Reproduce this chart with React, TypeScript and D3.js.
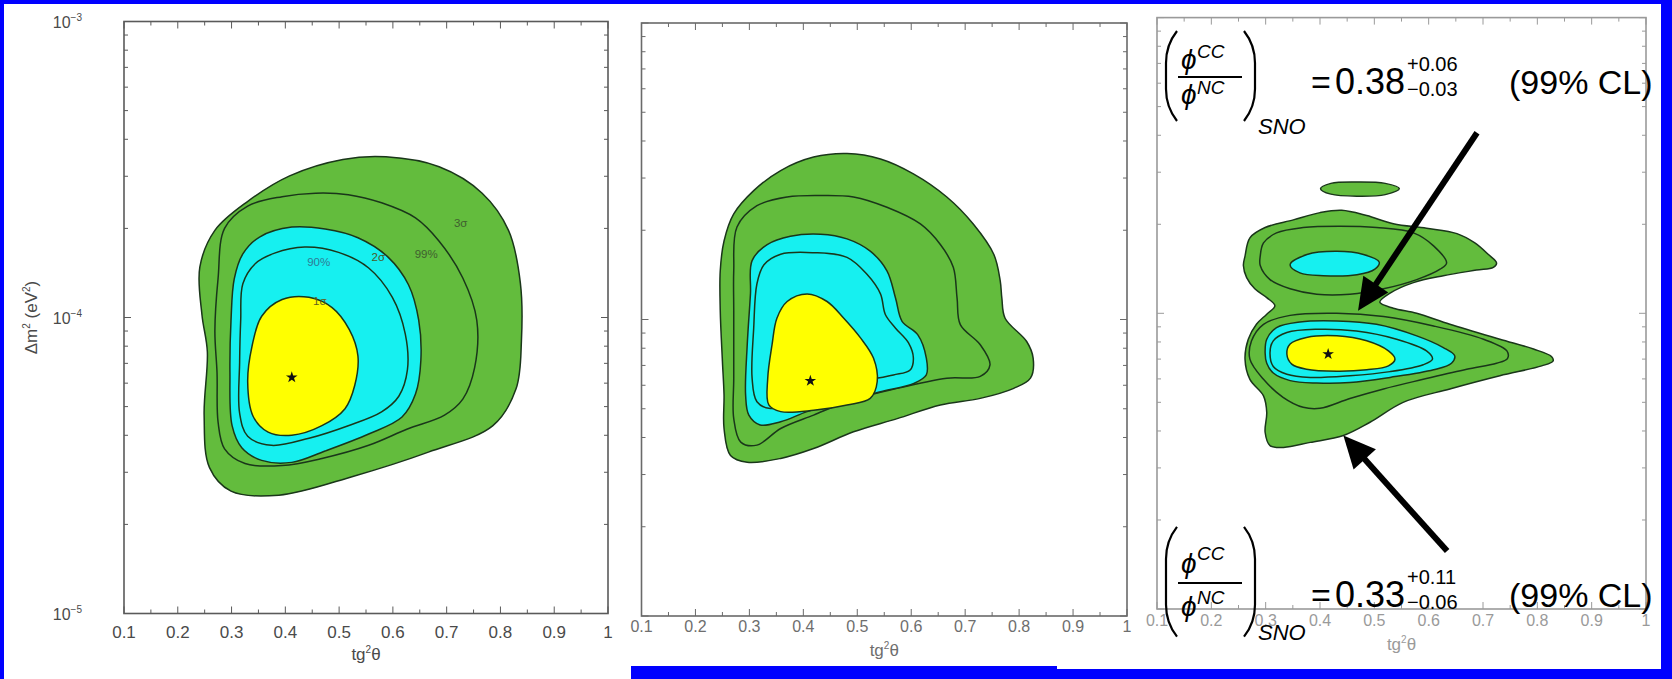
import React from "react";
import * as d3 from "d3";

type Pt = [number, number];

// ---- axes ----
const xDomain: [number, number] = [0.1, 1];
const yDomain: [number, number] = [1e-5, 1e-3];
const xTickValues = [0.1, 0.2, 0.3, 0.4, 0.5, 0.6, 0.7, 0.8, 0.9, 1];
const xTickLabels = ["0.1", "0.2", "0.3", "0.4", "0.5", "0.6", "0.7", "0.8", "0.9", "1"];
const xMinorValues = [0.15, 0.25, 0.35, 0.45, 0.55, 0.65, 0.75, 0.85, 0.95];
const yDecadeValues = [1e-5, 1e-4, 1e-3];
const yDecadeExponents = ["−5", "−4", "−3"];

// ---- panel 1: allowed regions (tg²θ, Δm² in eV²) ----
const p1Sigma3: Pt[] = [
  [0.241, 1.48e-4], [0.269, 1.97e-4], [0.329, 2.46e-4], [0.408, 3.01e-4], [0.507, 3.42e-4],
  [0.587, 3.49e-4], [0.686, 3.23e-4], [0.766, 2.63e-4], [0.815, 1.97e-4], [0.837, 1.31e-4],
  [0.839, 8.32e-5], [0.829, 5.74e-5], [0.786, 4.31e-5], [0.666, 3.51e-5], [0.527, 2.91e-5],
  [0.388, 2.51e-5], [0.299, 2.59e-5], [0.259, 3.11e-5], [0.249, 4.68e-5], [0.255, 7.66e-5],
  [0.245, 1.02e-4],
];
const p1CL99: Pt[] = [
  [0.269, 9.02e-5], [0.275, 1.36e-4], [0.287, 2.0e-4], [0.33, 2.38e-4], [0.394, 2.56e-4],
  [0.456, 2.63e-4], [0.517, 2.6e-4], [0.579, 2.44e-4], [0.642, 2.17e-4], [0.686, 1.81e-4],
  [0.73, 1.36e-4], [0.756, 9.79e-5], [0.752, 6.77e-5], [0.73, 5.3e-5], [0.696, 4.68e-5],
  [0.627, 4.2e-5], [0.555, 3.7e-5], [0.468, 3.34e-5], [0.394, 3.16e-5], [0.325, 3.21e-5],
  [0.287, 3.6e-5], [0.275, 4.42e-5], [0.273, 6.51e-5],
];
const p1Sigma2: Pt[] = [
  [0.299, 9.79e-5], [0.305, 1.35e-4], [0.321, 1.64e-4], [0.352, 1.87e-4], [0.412, 2.02e-4],
  [0.474, 1.99e-4], [0.535, 1.86e-4], [0.591, 1.6e-4], [0.629, 1.29e-4], [0.648, 9.79e-5],
  [0.652, 7.16e-5], [0.642, 5.51e-5], [0.617, 4.61e-5], [0.555, 4.04e-5], [0.474, 3.54e-5],
  [0.412, 3.24e-5], [0.356, 3.29e-5], [0.319, 3.63e-5], [0.301, 4.31e-5], [0.297, 6.51e-5],
];
const p1CL90: Pt[] = [
  [0.317, 9.79e-5], [0.321, 1.3e-4], [0.344, 1.52e-4], [0.38, 1.65e-4], [0.436, 1.73e-4],
  [0.499, 1.66e-4], [0.555, 1.47e-4], [0.599, 1.17e-4], [0.623, 8.81e-5], [0.627, 6.65e-5],
  [0.611, 5.42e-5], [0.579, 4.8e-5], [0.517, 4.31e-5], [0.444, 3.91e-5], [0.374, 3.7e-5],
  [0.33, 3.97e-5], [0.315, 4.75e-5], [0.315, 7.06e-5],
];
const p1Sigma1: Pt[] = [
  [0.444, 1.17e-4], [0.394, 1.15e-4], [0.356, 1.01e-4], [0.338, 7.99e-5], [0.33, 6.05e-5],
  [0.34, 4.64e-5], [0.368, 4.1e-5], [0.412, 4.0e-5], [0.468, 4.31e-5], [0.511, 4.92e-5],
  [0.529, 5.89e-5], [0.535, 7.42e-5], [0.519, 9.1e-5], [0.487, 1.08e-4],
];
const p1Best: Pt = [0.412, 6.28e-5];
const p1LevelNames = ["3σ", "99%", "2σ", "90%", "1σ"];
const p1LevelAt: Pt[] = [[0.726, 2.08e-4], [0.662, 1.64e-4], [0.573, 1.6e-4], [0.462, 1.54e-4], [0.464, 1.14e-4]];

// ---- panel 2 ----
const p2Sigma3: Pt[] = [
  [0.246, 1.46e-4], [0.253, 1.84e-4], [0.271, 2.27e-4], [0.308, 2.72e-4], [0.358, 3.18e-4],
  [0.419, 3.53e-4], [0.481, 3.63e-4], [0.543, 3.48e-4], [0.604, 3.1e-4], [0.666, 2.59e-4],
  [0.715, 2.1e-4], [0.753, 1.66e-4], [0.765, 1.35e-4], [0.768, 1.18e-4], [0.774, 1.01e-4],
  [0.814, 8.43e-5], [0.826, 7.41e-5], [0.821, 6.34e-5], [0.79, 5.86e-5], [0.728, 5.42e-5],
  [0.654, 5.15e-5], [0.574, 4.63e-5], [0.493, 4.18e-5], [0.419, 3.67e-5], [0.358, 3.4e-5],
  [0.296, 3.3e-5], [0.265, 3.48e-5], [0.253, 4.29e-5], [0.253, 5.56e-5], [0.25, 7.23e-5],
  [0.246, 1.07e-4],
];
const p2CL99: Pt[] = [
  [0.271, 1.07e-4], [0.271, 1.46e-4], [0.277, 2.05e-4], [0.314, 2.42e-4], [0.37, 2.59e-4],
  [0.432, 2.62e-4], [0.493, 2.59e-4], [0.555, 2.39e-4], [0.617, 2.1e-4], [0.654, 1.79e-4],
  [0.678, 1.5e-4], [0.685, 1.18e-4], [0.691, 9.61e-5], [0.728, 8.22e-5], [0.746, 7.03e-5],
  [0.728, 6.43e-5], [0.666, 6.34e-5], [0.574, 5.86e-5], [0.481, 5.28e-5], [0.419, 4.76e-5],
  [0.358, 4.29e-5], [0.314, 3.77e-5], [0.284, 3.86e-5], [0.271, 4.63e-5], [0.271, 6.34e-5],
];
const p2Sigma2: Pt[] = [
  [0.302, 1.22e-4], [0.305, 1.58e-4], [0.333, 1.79e-4], [0.376, 1.91e-4], [0.432, 1.94e-4],
  [0.481, 1.87e-4], [0.524, 1.7e-4], [0.555, 1.46e-4], [0.571, 1.18e-4], [0.583, 9.86e-5],
  [0.612, 8.89e-5], [0.628, 7.41e-5], [0.628, 6.5e-5], [0.605, 6.09e-5], [0.543, 5.71e-5],
  [0.469, 5.28e-5], [0.407, 4.89e-5], [0.358, 4.52e-5], [0.32, 4.41e-5], [0.299, 4.76e-5],
  [0.293, 5.56e-5], [0.296, 8.22e-5],
];
const p2CL90: Pt[] = [
  [0.308, 9.35e-5], [0.314, 1.32e-4], [0.327, 1.53e-4], [0.358, 1.66e-4], [0.419, 1.68e-4],
  [0.481, 1.62e-4], [0.518, 1.42e-4], [0.543, 1.22e-4], [0.552, 1.04e-4], [0.571, 9.35e-5],
  [0.595, 8.34e-5], [0.604, 7.41e-5], [0.598, 6.76e-5], [0.567, 6.5e-5], [0.506, 6.18e-5],
  [0.438, 5.71e-5], [0.376, 5.28e-5], [0.339, 5.01e-5], [0.314, 5.28e-5], [0.305, 6.34e-5],
];
const p2Sigma1: Pt[] = [
  [0.407, 1.22e-4], [0.37, 1.15e-4], [0.351, 1.01e-4], [0.342, 8.22e-5], [0.334, 6.34e-5],
  [0.336, 5.15e-5], [0.358, 4.89e-5], [0.419, 4.94e-5], [0.481, 5.15e-5], [0.524, 5.42e-5],
  [0.537, 6.18e-5], [0.53, 7.41e-5], [0.506, 8.67e-5], [0.475, 1.01e-4], [0.444, 1.15e-4],
];
const p2Best: Pt = [0.413, 6.21e-5];

// ---- panel 3 ----
const p3Sigma3: Pt[] = [
  [0.259, 1.45e-4], [0.262, 1.56e-4], [0.271, 1.8e-4], [0.299, 1.95e-4], [0.351, 2.07e-4],
  [0.4, 2.19e-4], [0.44, 2.23e-4], [0.486, 2.14e-4], [0.535, 2.01e-4], [0.596, 1.94e-4],
  [0.652, 1.86e-4], [0.685, 1.73e-4], [0.71, 1.58e-4], [0.725, 1.48e-4], [0.719, 1.43e-4],
  [0.688, 1.4e-4], [0.627, 1.34e-4], [0.572, 1.27e-4], [0.529, 1.17e-4], [0.51, 1.09e-4],
  [0.535, 1.04e-4], [0.578, 1.0e-4], [0.639, 9.18e-5], [0.731, 8.17e-5], [0.793, 7.57e-5],
  [0.826, 7.14e-5], [0.829, 6.9e-5], [0.808, 6.64e-5], [0.731, 6.15e-5], [0.639, 5.55e-5],
  [0.553, 5.0e-5], [0.492, 4.28e-5], [0.443, 3.86e-5], [0.382, 3.66e-5], [0.333, 3.52e-5],
  [0.308, 3.57e-5], [0.299, 3.96e-5], [0.302, 4.62e-5], [0.296, 5.26e-5], [0.271, 5.98e-5],
  [0.262, 7.0e-5], [0.268, 8.17e-5], [0.283, 9.18e-5], [0.302, 9.93e-5], [0.317, 1.06e-4],
  [0.302, 1.13e-4], [0.28, 1.21e-4], [0.265, 1.32e-4],
];
const p3Island: Pt[] = [
  [0.401, 2.64e-4], [0.42, 2.75e-4], [0.47, 2.78e-4], [0.52, 2.75e-4], [0.546, 2.64e-4],
  [0.52, 2.52e-4], [0.47, 2.49e-4], [0.42, 2.53e-4],
];
const p3CL99Upper: Pt[] = [
  [0.29, 1.56e-4], [0.296, 1.73e-4], [0.32, 1.87e-4], [0.369, 1.95e-4], [0.437, 1.97e-4],
  [0.504, 1.95e-4], [0.572, 1.87e-4], [0.609, 1.69e-4], [0.633, 1.48e-4], [0.621, 1.41e-4],
  [0.578, 1.3e-4], [0.517, 1.21e-4], [0.455, 1.16e-4], [0.394, 1.16e-4], [0.345, 1.21e-4],
  [0.308, 1.3e-4], [0.29, 1.45e-4],
];
const p3Sigma2Upper: Pt[] = [
  [0.345, 1.46e-4], [0.376, 1.58e-4], [0.431, 1.62e-4], [0.48, 1.58e-4], [0.509, 1.49e-4],
  [0.501, 1.41e-4], [0.468, 1.35e-4], [0.406, 1.34e-4], [0.363, 1.37e-4],
];
const p3CL99Lower: Pt[] = [
  [0.271, 7.0e-5], [0.274, 8.07e-5], [0.296, 9.18e-5], [0.345, 9.84e-5], [0.431, 1.0e-4],
  [0.517, 9.75e-5], [0.609, 9.06e-5], [0.701, 8.17e-5], [0.744, 7.46e-5], [0.745, 7.03e-5],
  [0.725, 6.78e-5], [0.67, 6.47e-5], [0.59, 5.98e-5], [0.517, 5.55e-5], [0.455, 5.15e-5],
  [0.4, 4.77e-5], [0.369, 4.81e-5], [0.332, 5.2e-5], [0.296, 5.98e-5],
];
const p3Sigma2Lower: Pt[] = [
  [0.299, 7.36e-5], [0.302, 8.17e-5], [0.32, 8.95e-5], [0.363, 9.35e-5], [0.431, 9.42e-5],
  [0.504, 9.18e-5], [0.578, 8.39e-5], [0.627, 7.66e-5], [0.648, 7.18e-5], [0.642, 6.78e-5],
  [0.609, 6.44e-5], [0.529, 6.07e-5], [0.455, 5.83e-5], [0.394, 5.81e-5], [0.345, 5.92e-5],
  [0.314, 6.28e-5], [0.302, 6.78e-5],
];
const p3CL90Lower: Pt[] = [
  [0.308, 7.36e-5], [0.314, 8.07e-5], [0.339, 8.61e-5], [0.394, 8.83e-5], [0.467, 8.71e-5],
  [0.541, 8.17e-5], [0.596, 7.46e-5], [0.607, 7.0e-5], [0.59, 6.7e-5], [0.529, 6.35e-5],
  [0.455, 6.15e-5], [0.382, 6.07e-5], [0.339, 6.22e-5], [0.314, 6.61e-5],
];
const p3Sigma1: Pt[] = [
  [0.339, 7.28e-5], [0.345, 7.87e-5], [0.375, 8.28e-5], [0.431, 8.39e-5], [0.486, 8.07e-5],
  [0.526, 7.46e-5], [0.538, 7.0e-5], [0.526, 6.64e-5], [0.486, 6.44e-5], [0.431, 6.37e-5],
  [0.375, 6.47e-5], [0.348, 6.73e-5],
];
const p3Best: Pt = [0.415, 7.28e-5];

// SNO CC/NC ratio annotations and the arrows pointing at the contours they refer to
const ratioCentral = [0.38, 0.33];
const ratioPlus = [0.06, 0.11];
const ratioMinus = [0.03, 0.06];
const arrowFrom: Pt[] = [[0.689, 4.08e-4], [0.634, 1.57e-5]];
const arrowTo: Pt[] = [[0.47, 1.02e-4], [0.443, 3.86e-5]];

// ---- styling ----
const W = 1672;
const H = 679;
const FONT = "'Liberation Sans', Arial, Helvetica, sans-serif";
const GREEN = "#63bc3d";
const CYAN = "#16f0f0";
const YELLOW = "#ffff00";
const EDGE = "#1a361a";

interface Layer {
  pts: Pt[];
  fill: string;
}
interface PanelSpec {
  left: number;
  right: number;
  top: number;
  bottom: number;
  frame: string;
  labelColor: string;
  labelSize: number;
  labelBase: number;
  titleBase: number;
  layers: Layer[];
  best: Pt;
  yLabels: boolean;
}

const panels: PanelSpec[] = [
  {
    left: 124, right: 608, top: 21.5, bottom: 613.5, frame: "#5a5a5a",
    labelColor: "#4a4a4a", labelSize: 17, labelBase: 638, titleBase: 660, best: p1Best, yLabels: true,
    layers: [
      { pts: p1Sigma3, fill: GREEN }, { pts: p1CL99, fill: "none" }, { pts: p1Sigma2, fill: CYAN },
      { pts: p1CL90, fill: "none" }, { pts: p1Sigma1, fill: YELLOW },
    ],
  },
  {
    left: 641.5, right: 1127, top: 23, bottom: 616, frame: "#6a6a6a",
    labelColor: "#6e6e6e", labelSize: 16, labelBase: 632, titleBase: 656, best: p2Best, yLabels: false,
    layers: [
      { pts: p2Sigma3, fill: GREEN }, { pts: p2CL99, fill: "none" }, { pts: p2Sigma2, fill: CYAN },
      { pts: p2CL90, fill: "none" }, { pts: p2Sigma1, fill: YELLOW },
    ],
  },
  {
    left: 1157, right: 1646, top: 17.6, bottom: 609, frame: "#9a9a9a",
    labelColor: "#9a9a9a", labelSize: 16, labelBase: 626, titleBase: 650, best: p3Best, yLabels: false,
    layers: [
      { pts: p3Sigma3, fill: GREEN }, { pts: p3Island, fill: GREEN }, { pts: p3CL99Upper, fill: "none" },
      { pts: p3Sigma2Upper, fill: CYAN }, { pts: p3CL99Lower, fill: "none" }, { pts: p3Sigma2Lower, fill: CYAN },
      { pts: p3CL90Lower, fill: "none" }, { pts: p3Sigma1, fill: YELLOW },
    ],
  },
];

function scalesFor(p: PanelSpec) {
  const x = d3.scaleLinear().domain(xDomain).range([p.left, p.right]);
  const y = d3.scaleLog().domain(yDomain).range([p.bottom, p.top]);
  return { x, y };
}

function Panel({ p, children }: { p: PanelSpec; children?: React.ReactNode }) {
  const { x, y } = scalesFor(p);
  const contour = d3
    .line<Pt>()
    .x((d) => x(d[0]))
    .y((d) => y(d[1]))
    .curve(d3.curveCatmullRomClosed.alpha(0.5));
  const yMinor = y.ticks().filter((v) => !yDecadeValues.some((d) => Math.abs(v - d) / d < 1e-6));
  const star = d3.symbol().type(d3.symbolStar).size(42)();
  const tick = { stroke: p.frame, strokeWidth: 1 };
  const cx = (p.left + p.right) / 2;

  return (
    <g>
      {p.layers.map((l, i) => (
        <path
          key={i}
          d={contour(l.pts) || ""}
          fill={l.fill}
          stroke={EDGE}
          strokeWidth={1.5}
          strokeLinejoin="round"
        />
      ))}
      <path d={star || ""} transform={`translate(${x(p.best[0])},${y(p.best[1])})`} fill="#111" />

      {/* frame and ticks on all four sides */}
      <rect x={p.left} y={p.top} width={p.right - p.left} height={p.bottom - p.top} fill="none" stroke={p.frame} strokeWidth={1.6} />
      {xTickValues.map((v) => (
        <g key={`xt${v}`}>
          <line x1={x(v)} x2={x(v)} y1={p.bottom} y2={p.bottom - 7} {...tick} />
          <line x1={x(v)} x2={x(v)} y1={p.top} y2={p.top + 7} {...tick} />
        </g>
      ))}
      {xMinorValues.map((v) => (
        <g key={`xm${v}`}>
          <line x1={x(v)} x2={x(v)} y1={p.bottom} y2={p.bottom - 4} {...tick} />
          <line x1={x(v)} x2={x(v)} y1={p.top} y2={p.top + 4} {...tick} />
        </g>
      ))}
      {yDecadeValues.map((v) => (
        <g key={`yt${v}`}>
          <line x1={p.left} x2={p.left + 7} y1={y(v)} y2={y(v)} {...tick} />
          <line x1={p.right} x2={p.right - 7} y1={y(v)} y2={y(v)} {...tick} />
        </g>
      ))}
      {yMinor.map((v) => (
        <g key={`ym${v}`}>
          <line x1={p.left} x2={p.left + 4} y1={y(v)} y2={y(v)} {...tick} />
          <line x1={p.right} x2={p.right - 4} y1={y(v)} y2={y(v)} {...tick} />
        </g>
      ))}

      {/* tick labels */}
      <g fontFamily={FONT} fontSize={p.labelSize} fill={p.labelColor} textAnchor="middle">
        {xTickValues.map((v, i) => (
          <text key={`xl${v}`} x={x(v)} y={p.labelBase}>
            {xTickLabels[i]}
          </text>
        ))}
        <text x={cx} y={p.titleBase} fontSize={17}>
          tg<tspan dy={-7} fontSize={10}>2</tspan>
          <tspan dy={7}>θ</tspan>
        </text>
      </g>
      {p.yLabels && (
        <g fontFamily={FONT} fill={p.labelColor} textAnchor="end">
          {yDecadeValues.map((v, i) => (
            <text key={`yl${v}`} x={p.left - 42} y={y(v) + 6} fontSize={16}>
              10<tspan dy={-7} fontSize={10}>{yDecadeExponents[i]}</tspan>
            </text>
          ))}
          <text
            transform={`translate(${p.left - 87},${y(1e-4)}) rotate(-90)`}
            textAnchor="middle"
            fontSize={17}
          >
            Δm<tspan dy={-7} fontSize={10}>2</tspan>
            <tspan dy={7}> (eV</tspan>
            <tspan dy={-7} fontSize={10}>2</tspan>
            <tspan dy={7}>)</tspan>
          </text>
        </g>
      )}
      {children}
    </g>
  );
}

function LevelLabels({ p }: { p: PanelSpec }) {
  const { x, y } = scalesFor(p);
  const colors = ["#3f5f2f", "#3f5f2f", "#4a5a2a", "#2f7a95", "#5f5f1f"];
  return (
    <g fontFamily={FONT} fontSize={11.5} textAnchor="middle">
      {p1LevelNames.map((n, i) => (
        <text key={n + i} x={x(p1LevelAt[i][0])} y={y(p1LevelAt[i][1]) + 4} fill={colors[i]}>
          {n}
        </text>
      ))}
    </g>
  );
}

function Arrow({ p, from, to }: { p: PanelSpec; from: Pt; to: Pt }) {
  const { x, y } = scalesFor(p);
  const x1 = x(from[0]), y1 = y(from[1]);
  const x2 = x(to[0]), y2 = y(to[1]);
  const len = Math.hypot(x2 - x1, y2 - y1);
  const ux = (x2 - x1) / len, uy = (y2 - y1) / len;
  const head = 32, half = 15;
  const bx = x2 - ux * head, by = y2 - uy * head;
  const pts = `${x2},${y2} ${bx - uy * half},${by + ux * half} ${bx + uy * half},${by - ux * half}`;
  return (
    <g>
      <line x1={x1} y1={y1} x2={bx + ux * 2} y2={by + uy * 2} stroke="#000" strokeWidth={6} />
      <polygon points={pts} fill="#000" />
    </g>
  );
}

interface RatioProps {
  x0: number;
  yBar: number;
  yBase: number;
  span: number;
  i: number;
}

function Ratio({ x0, yBar, yBase, span, i }: RatioProps) {
  const top = yBar - 46 * span;
  const bot = yBar + 44 * span;
  const bracket = (xe: number, s: number) =>
    `M${xe + 11 * s},${top} Q${xe},${top + 14} ${xe},${top + 32} L${xe},${bot - 32} Q${xe},${bot - 14} ${xe + 11 * s},${bot}`;
  return (
    <g fontFamily={FONT} fill="#000">
      <path d={bracket(x0 + 1, 1)} fill="none" stroke="#000" strokeWidth={2.2} />
      <path d={bracket(x0 + 90, -1)} fill="none" stroke="#000" strokeWidth={2.2} />
      <text x={x0 + 16} y={yBar - 8 * span} fontSize={28} fontStyle="italic">ϕ</text>
      <text x={x0 + 32} y={yBar - 19 * span} fontSize={19} fontStyle="italic">CC</text>
      <line x1={x0 + 13} x2={x0 + 77} y1={yBar} y2={yBar} stroke="#000" strokeWidth={2} />
      <text x={x0 + 16} y={yBar + 27 * span} fontSize={28} fontStyle="italic">ϕ</text>
      <text x={x0 + 32} y={yBar + 17 * span} fontSize={19} fontStyle="italic">NC</text>
      <text x={x0 + 93} y={yBar + 57} fontSize={22} fontStyle="italic">SNO</text>
      <text x={x0 + 146} y={yBase} fontSize={34}>=</text>
      <text x={x0 + 170} y={yBase} fontSize={36}>{ratioCentral[i].toFixed(2)}</text>
      <text x={x0 + 242} y={yBase - 23} fontSize={20}>+{ratioPlus[i].toFixed(2)}</text>
      <text x={x0 + 242} y={yBase + 2} fontSize={20}>−{ratioMinus[i].toFixed(2)}</text>
      <text x={x0 + 344} y={yBase} fontSize={34}>(99% CL)</text>
    </g>
  );
}

export default function App() {
  const p3 = panels[2];
  return (
    <svg
      width={W}
      height={H}
      viewBox={`0 0 ${W} ${H}`}
      style={{ position: "absolute", left: 0, top: 0, background: "#fff" }}
    >
      <rect x={0} y={0} width={W} height={H} fill="#fff" />
      <Panel p={panels[0]}>
        <LevelLabels p={panels[0]} />
      </Panel>
      <Panel p={panels[1]} />
      <Panel p={p3}>
        {arrowFrom.map((f, i) => (
          <Arrow key={i} p={p3} from={f} to={arrowTo[i]} />
        ))}
      </Panel>
      <Ratio x0={1165} yBar={77} yBase={94} span={1} i={0} />
      <Ratio x0={1165} yBar={583} yBase={607} span={1.22} i={1} />

      {/* slide border */}
      <rect x={0} y={0} width={4} height={H} fill="#0000ff" />
      <rect x={0} y={0} width={W} height={4} fill="#0000ff" />
      <rect x={1661} y={0} width={W - 1661} height={H} fill="#0000ff" />
      <rect x={631} y={666} width={1057 - 631} height={H - 666} fill="#0000ff" />
      <rect x={1057} y={669} width={W - 1057} height={H - 669} fill="#0000ff" />
    </svg>
  );
}
